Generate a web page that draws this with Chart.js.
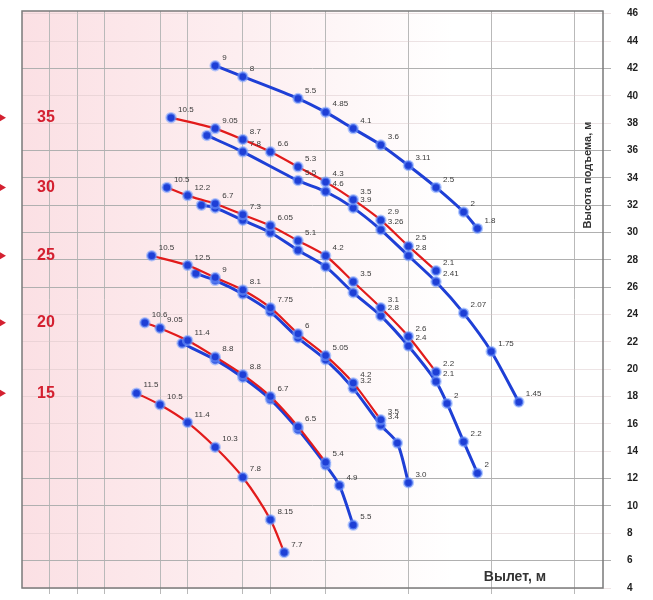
<!DOCTYPE html>
<html><head><meta charset="utf-8">
<script src="https://cdn.jsdelivr.net/npm/chart.js@4/dist/chart.umd.min.js"></script>
<style>html,body{margin:0;padding:0;background:#fff}#wrap{width:653px;height:600px}</style>
</head><body><div id="wrap"><canvas id="c" width="653" height="600"></canvas></div>
<script>
// ---- data (radius, m / hook height, m / load, t) ----
const radius40 = [7, 8, 10, 11, 12, 13, 14, 15, 16, 16.5];
const height40 = [42.2, 41.4, 39.8, 38.8, 37.6, 36.4, 34.9, 33.3, 31.5, 30.3];
const load40 = ["9","8","5.5","4.85","4.1","3.6","3.11","2.5","2","1.8"];

const radius35a = [5.4, 7, 8, 9, 10, 11, 12, 13, 14, 15];
const height35a = [38.4, 37.6, 36.8, 35.9, 34.8, 33.7, 32.4, 30.9, 29.0, 27.2];
const load35a = ["10.5","9.05","8.7","6.6","5.3","4.3","3.5","2.9","2.5","2.1"];
const radius35b = [6.7, 8, 10, 11, 12, 13, 14, 15, 16, 17, 18];
const height35b = [37.1, 35.9, 33.8, 33.0, 31.8, 30.2, 28.3, 26.4, 24.1, 21.3, 17.6];
const load35b = ["","7.8","5.5","4.6","3.9","3.26","2.8","2.41","2.07","1.75","1.45"];

const radius30a = [5.25, 6, 7, 8, 9, 10, 11, 12, 13, 14, 15];
const height30a = [33.3, 32.7, 32.1, 31.3, 30.5, 29.4, 28.3, 26.4, 24.5, 22.4, 19.8];
const load30a = ["10.5","12.2","6.7","7.3","6.05","5.1","4.2","3.5","3.1","2.6","2.2"];
const radius30b = [6.5, 7, 8, 9, 10, 11, 12, 13, 14, 15, 15.4, 16, 16.5];
const height30b = [32.0, 31.8, 30.9, 30.0, 28.7, 27.5, 25.6, 23.9, 21.7, 19.1, 17.5, 14.7, 12.4];
const load30b = ["","","","","","","","2.8","2.4","2.1","2","2.2","2"];

const radius25a = [4.7, 6, 7, 8, 9, 10, 11, 12, 13];
const height25a = [28.3, 27.6, 26.7, 25.8, 24.5, 22.6, 21.0, 19.0, 16.3];
const load25a = ["10.5","12.5","9","8.1","7.75","6","5.05","4.2","3.5"];
const radius25b = [6.3, 7, 8, 9, 10, 11, 12, 13, 13.6, 14];
const height25b = [27.0, 26.5, 25.5, 24.2, 22.3, 20.7, 18.6, 15.9, 14.6, 11.7];
const load25b = ["","","","","","","3.2","3.4","","3.0"];

const radius20a = [4.45, 5, 6, 7, 8, 9, 10, 11];
const height20a = [23.4, 23.0, 22.1, 20.9, 19.6, 18.0, 15.8, 13.2];
const load20a = ["10.6","9.05","11.4","8.8","8.8","6.7","6.5","5.4"];
const radius20b = [5.8, 7, 8, 9, 10, 11, 11.5, 12];
const height20b = [21.9, 20.7, 19.4, 17.8, 15.6, 13.0, 11.5, 8.6];
const load20b = ["","","","","","","4.9","5.5"];

const radius15 = [4.15, 5, 6, 7, 8, 9, 9.5];
const height15 = [18.25, 17.4, 16.1, 14.3, 12.1, 9.0, 6.6];
const load15 = ["11.5","10.5","11.4","10.3","7.8","8.15","7.7"];

const boomLengths = ["35","30","25","20","15"];
const yTickValues = [4,6,8,10,12,14,16,18,20,22,24,26,28,30,32,34,36,38,40,42,44,46];
const yStrongGrid = [6,10,12,26,28,30,32,34,36,42];
const xGridValues = [1,2,3,5,6,8,9,11,14,17,20];
const yTitle = "Высота подъема, м";
const xTitle = "Вылет, м";

const BLUE = '#1e3fd6', RED = '#e21b1b';
function pts(xs, ys){ return xs.map((x,i)=>({x:x, y:ys[i]})); }
function ds(xs, ys, labels, lineColor, width, order, boom){
  return {
    data: pts(xs, ys), pointLabels: labels, boomLabel: boom || null,
    showLine: true, borderColor: lineColor, borderWidth: width, tension: 0.25,
    pointRadius: 4.5, pointHoverRadius: 4.5,
    pointBackgroundColor: BLUE, pointBorderColor: 'rgba(120,160,255,0.55)', pointBorderWidth: 2.5,
    order: order
  };
}

const datasets = [
  ds(radius40, height40, load40, BLUE, 3, 2),
  ds(radius35a, height35a, load35a, RED, 2.2, 1, boomLengths[0]),
  ds(radius35b, height35b, load35b, BLUE, 3, 2),
  ds(radius30a, height30a, load30a, RED, 2.2, 1, boomLengths[1]),
  ds(radius30b, height30b, load30b, BLUE, 3, 2),
  ds(radius25a, height25a, load25a, RED, 2.2, 1, boomLengths[2]),
  ds(radius25b, height25b, load25b, BLUE, 3, 2),
  ds(radius20a, height20a, load20a, RED, 2.2, 1, boomLengths[3]),
  ds(radius20b, height20b, load20b, BLUE, 3, 2),
  ds(radius15, height15, load15, RED, 2.2, 1, boomLengths[4])
];

const bgPlugin = {
  id: 'bg',
  beforeDraw(chart){
    const {ctx, chartArea: a} = chart;
    ctx.save();
    const g = ctx.createLinearGradient(a.left, 0, a.left + 430, 0);
    g.addColorStop(0, 'rgb(251,224,228)');
    g.addColorStop(0.5, 'rgb(253,238,240)');
    g.addColorStop(1, 'rgb(255,255,255)');
    ctx.fillStyle = g;
    ctx.fillRect(a.left, a.top, a.right - a.left, a.bottom - a.top);
    ctx.restore();
  },
  afterDraw(chart){
    const {ctx, chartArea: a} = chart;
    ctx.save();
    ctx.strokeStyle = '#7a7a7a'; ctx.lineWidth = 1.5;
    ctx.strokeRect(a.left, a.top, a.right - a.left, a.bottom - a.top);
    ctx.fillStyle = '#333';
    ctx.font = '600 14px "Liberation Sans", Arial, sans-serif';
    ctx.textAlign = 'center'; ctx.textBaseline = 'middle';
    ctx.fillText(xTitle, 515, 577);
    ctx.translate(588, 175); ctx.rotate(-Math.PI/2);
    ctx.font = '600 11px "Liberation Sans", Arial, sans-serif';
    ctx.fillText(yTitle, 0, 0);
    ctx.restore();
  }
};

const labelPlugin = {
  id: 'ptlabels',
  afterDatasetsDraw(chart){
    const ctx = chart.ctx;
    ctx.save();
    ctx.font = '8px "Liberation Sans", Arial, sans-serif';
    ctx.fillStyle = '#3a3a3a';
    ctx.textAlign = 'left'; ctx.textBaseline = 'bottom';
    chart.data.datasets.forEach((d, i) => {
      const meta = chart.getDatasetMeta(i);
      meta.data.forEach((el, j) => {
        const t = d.pointLabels[j];
        if (t) ctx.fillText(t, el.x + 7, el.y - 4);
      });
      if (d.boomLabel) {
        const y = meta.data[0].y;
        ctx.save();
        ctx.fillStyle = '#d42030';
        ctx.font = '600 16px "Liberation Sans Narrow", "Liberation Sans", Arial, sans-serif';
        ctx.textAlign = 'center'; ctx.textBaseline = 'middle';
        ctx.fillText(d.boomLabel, 46, y);
        ctx.beginPath();
        ctx.moveTo(0, y - 3.5); ctx.lineTo(6, y); ctx.lineTo(0, y + 3.5); ctx.closePath();
        ctx.fill();
        ctx.restore();
      }
    });
    ctx.restore();
  }
};

new Chart(document.getElementById('c'), {
  type: 'scatter',
  data: { datasets },
  plugins: [bgPlugin, labelPlugin],
  options: {
    responsive: false, animation: false, devicePixelRatio: 1,
    layout: { padding: { left: 22, top: 11, right: 0, bottom: 0 } },
    plugins: { legend: { display: false }, tooltip: { enabled: false } },
    scales: {
      x: {
        type: 'linear', position: 'bottom', min: 0, max: 21.05,
        afterBuildTicks: s => { s.ticks = xGridValues.map(v => ({value: v})); },
        afterFit: s => { s.height = 12; s.paddingLeft = 0; s.paddingRight = 0; },
        ticks: { display: false },
        grid: { color: '#b9b9b9', lineWidth: 1, tickLength: 6, drawTicks: true },
        border: { display: false }
      },
      y: {
        type: 'linear', position: 'right', min: 4, max: 46.2,
        afterBuildTicks: s => { s.ticks = yTickValues.map(v => ({value: v})); },
        afterFit: s => { s.width = 50; s.paddingTop = 0; s.paddingBottom = 0; },
        ticks: { color: '#222', padding: 16, font: { size: 10, weight: 'bold', family: '"Liberation Sans", Arial, sans-serif' } },
        grid: {
          color: c => yStrongGrid.includes(c.tick.value) ? '#b0b0b0' : 'rgba(215,195,198,0.45)',
          lineWidth: 1, tickLength: 8
        },
        border: { display: false }
      }
    }
  }
});
</script></body></html>
